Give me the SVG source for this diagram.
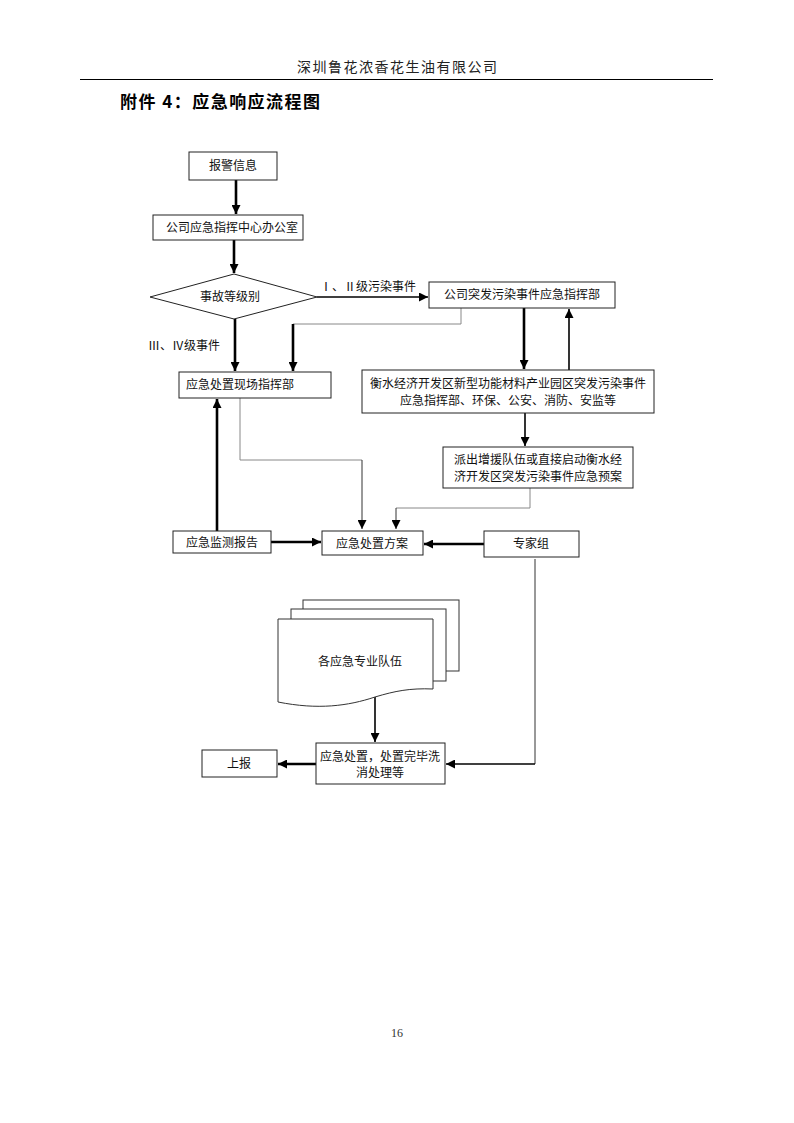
<svg xmlns="http://www.w3.org/2000/svg" width="794" height="1123" viewBox="0 0 794 1123">
<style>
.bg{fill:#fff}
.box{fill:#fff;stroke:#222;stroke-width:1}
.doc{fill:#fff;stroke:#333;stroke-width:1}
.t{font-family:"Noto Sans CJK SC","Noto Sans",sans-serif;font-size:12px;fill:#111}
.thick{fill:none;stroke:#000;stroke-width:2.6}
.med{fill:none;stroke:#000;stroke-width:1.6}
.thin{fill:none;stroke:#888;stroke-width:1}
.thinb{fill:none;stroke:#333;stroke-width:1}
</style>
<defs>
<marker id="ah" viewBox="0 0 10 10" refX="10" refY="5" markerWidth="9" markerHeight="9" markerUnits="userSpaceOnUse" orient="auto">
<path d="M0,0 L10,5 L0,10 Z" fill="#000"/>
</marker>
</defs>
<rect class="bg" x="0" y="0" width="794" height="1123"/>
<g id="header">
<text x="297" y="72" textLength="200" lengthAdjust="spacing" font-family="Noto Sans CJK SC, sans-serif" font-size="14" fill="#222">深圳鲁花浓香花生油有限公司</text>
<line x1="80" y1="79.5" x2="713" y2="79.5" stroke="#000" stroke-width="1.2"/>
<text x="120" y="108" textLength="200" lengthAdjust="spacing" font-family="Noto Sans CJK SC, sans-serif" font-size="17" font-weight="bold" fill="#000">附件 4：应急响应流程图</text>
</g>
<g id="connectors">
<path class="thick" d="M236,180 V214" marker-end="url(#ah)"/>
<path class="thick" d="M234,240 V273" marker-end="url(#ah)"/>
<path class="med" d="M317,297 H428" marker-end="url(#ah)"/>
<path class="thin" d="M461,308 V324 H293"/>
<path class="thick" d="M293,324 V371" marker-end="url(#ah)"/>
<path class="thick" d="M235,319 V371" marker-end="url(#ah)"/>
<path class="thick" d="M524,308 V369" marker-end="url(#ah)"/>
<path class="med" d="M569,370 V309" marker-end="url(#ah)"/>
<path class="med" d="M525,413 V446" marker-end="url(#ah)"/>
<path class="thin" d="M530,488 V508 H396"/>
<path class="thinb" d="M396,508 V529" marker-end="url(#ah)"/>
<path class="thin" d="M240,398 V460 H362"/>
<path class="thinb" d="M362,460 V529" marker-end="url(#ah)"/>
<path class="thick" d="M217,531 V399" marker-end="url(#ah)"/>
<path class="thick" d="M271,542 H321" marker-end="url(#ah)"/>
<path class="thick" d="M484,544 H424" marker-end="url(#ah)"/>
<path class="thinb" d="M535,559 V764"/>
<path class="med" d="M535,764 H446" marker-end="url(#ah)"/>
<path class="med" d="M375,697 V742" marker-end="url(#ah)"/>
<path class="thick" d="M316,764 H278" marker-end="url(#ah)"/>
</g>
<g id="n-alarm"><rect class="box" x="189" y="152" width="88" height="28"/><text class="t" x="233" y="170" text-anchor="middle">报警信息</text></g>
<g id="n-office"><rect class="box" x="153" y="215" width="150" height="25"/><text class="t" x="232" y="232" text-anchor="middle">公司应急指挥中心办公室</text></g>
<g id="n-level"><polygon class="box" points="150,297 234,274 317,297 234,319"/><text class="t" x="230" y="301" text-anchor="middle">事故等级别</text></g>
<text class="t" x="320" y="291">Ⅰ、Ⅱ级污染事件</text>
<text class="t" x="148" y="350">Ⅲ、Ⅳ级事件</text>
<g id="n-company"><rect class="box" x="429" y="282" width="186" height="26"/><text class="t" x="522" y="299" text-anchor="middle">公司突发污染事件应急指挥部</text></g>
<g id="n-site"><rect class="box" x="179" y="372" width="152" height="26"/><text class="t" x="186" y="389">应急处置现场指挥部</text></g>
<g id="n-hengshui"><rect class="box" x="362" y="370" width="292" height="43"/><text class="t" x="508" y="388" text-anchor="middle">衡水经济开发区新型功能材料产业园区突发污染事件</text><text class="t" x="508" y="405" text-anchor="middle">应急指挥部、环保、公安、消防、安监等</text></g>
<g id="n-dispatch"><rect class="box" x="443" y="447" width="190" height="41"/><text class="t" x="538" y="464" text-anchor="middle">派出增援队伍或直接启动衡水经</text><text class="t" x="538" y="481" text-anchor="middle">济开发区突发污染事件应急预案</text></g>
<g id="n-monitor"><rect class="box" x="173" y="531" width="98" height="22"/><text class="t" x="222" y="547" text-anchor="middle">应急监测报告</text></g>
<g id="n-plan"><rect class="box" x="322" y="531" width="101" height="24"/><text class="t" x="372" y="548" text-anchor="middle">应急处置方案</text></g>
<g id="n-expert"><rect class="box" x="484" y="531" width="95" height="26"/><text class="t" x="531" y="548" text-anchor="middle">专家组</text></g>
<g id="n-teams">
<rect class="doc" x="303" y="600" width="156" height="71"/>
<rect class="doc" x="291" y="609" width="155" height="72"/>
<path class="doc" d="M278,619 H433 V689 C410,688 395,691 375,697 C348,706 318,710 278,702 Z"/>
<text class="t" x="360" y="666" text-anchor="middle">各应急专业队伍</text>
</g>
<g id="n-handle"><rect class="box" x="316" y="743" width="129" height="41"/><text class="t" x="380" y="761" text-anchor="middle">应急处置，处置完毕洗</text><text class="t" x="380" y="777" text-anchor="middle">消处理等</text></g>
<g id="n-report"><rect class="box" x="202" y="750" width="75" height="27"/><text class="t" x="239" y="768" text-anchor="middle">上报</text></g>
<text x="397" y="1037" text-anchor="middle" font-family="Liberation Serif, serif" font-size="12" fill="#333">16</text>
</svg>
